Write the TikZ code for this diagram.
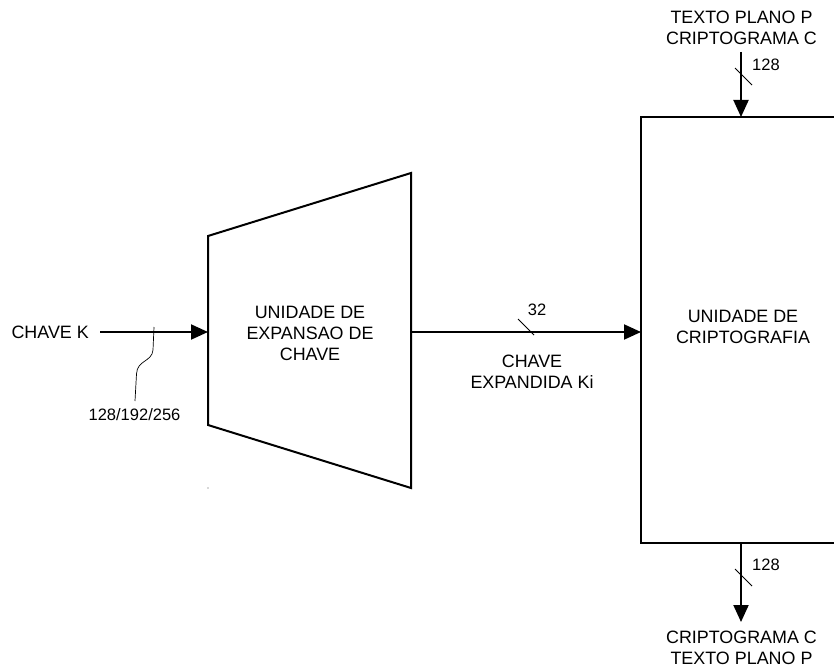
\documentclass[tikz,border=0pt]{standalone}
\usepackage{fontspec}
\setmainfont{Liberation Sans}
\usetikzlibrary{arrows.meta}
\begin{document}
\begin{tikzpicture}[x=1pt,y=-1pt,
  wire/.style={line width=2pt},
  flow/.style={wire,-{Triangle[length=17pt,width=15pt]}},
  blockline/.style={line width=2pt,line join=miter},
  lbl/.style={inner sep=0pt,align=center,font=\fontsize{17.9}{21}\selectfont},
  num/.style={inner sep=0pt,font=\fontsize{16.5}{19}\selectfont},
  tick/.style={line width=0.8pt}]
\useasboundingbox (0,0) rectangle (834,668);
\clip (0,0) rectangle (834,668);
\fill[white] (0,0) rectangle (834,668);

% key expansion unit (trapezoid)
\coordinate (tl) at (208,236);
\coordinate (tr) at (411,173);
\coordinate (br) at (411,488);
\coordinate (bl) at (208,425);
\draw[blockline] (tl) -- (tr) -- (br) -- (bl) -- cycle;
\coordinate (expIn) at (208,332);
\coordinate (expOut) at (411,332);
\node[lbl] (expText) at (310,333) {UNIDADE DE\\EXPANSAO DE\\CHAVE};
\fill[gray!60] (208,488) circle (0.8pt);

% cipher unit (extends past the right border)
\draw[blockline] (860,117) -- (641,117) -- (641,543) -- (860,543);
\coordinate (ciphIn) at (641,332);
\coordinate (ciphTop) at (741,117);
\coordinate (ciphBot) at (741,543);
\node[lbl] (ciphText) at (743,327) {UNIDADE DE\\CRIPTOGRAFIA};

% key input
\node[lbl,anchor=east] (keyK) at (89,332) {CHAVE K};
\coordinate (keyStart) at (100,332);
\draw[flow] (keyStart) -- (expIn);
\coordinate (kTap) at (154,327);
\coordinate (kLbl) at (135,401);
\draw[line width=0.7pt] (kTap) -- (153,350) .. controls (152,362) and (137,360) .. (136.5,374) -- (kLbl);
\node[num] (keySize) at (134.5,415) {128/192/256};

% expanded key
\draw[flow] (expOut) -- (ciphIn);
\coordinate (s1a) at (518,319);
\coordinate (s1b) at (534,335);
\draw[tick] (s1a) -- (s1b);
\node[num] (w32) at (537,310) {32};
\node[lbl] (expKey) at (532,372) {CHAVE\\EXPANDIDA Ki};

% data input
\node[lbl] (inTxt) at (741.5,28) {TEXTO PLANO P\\CRIPTOGRAMA C};
\coordinate (inStart) at (741,52);
\draw[flow] (inStart) -- (ciphTop);
\coordinate (s2a) at (735,68);
\coordinate (s2b) at (752,85);
\draw[tick] (s2a) -- (s2b);
\node[num,anchor=west] (w128a) at (752,65) {128};

% data output
\node[lbl] (outTxt) at (741.5,648) {CRIPTOGRAMA C\\TEXTO PLANO P};
\coordinate (outEnd) at (741,622);
\draw[flow] (ciphBot) -- (outEnd);
\coordinate (s3a) at (735,569);
\coordinate (s3b) at (752,586);
\draw[tick] (s3a) -- (s3b);
\node[num,anchor=west] (w128b) at (752,565) {128};
\end{tikzpicture}
\end{document}
